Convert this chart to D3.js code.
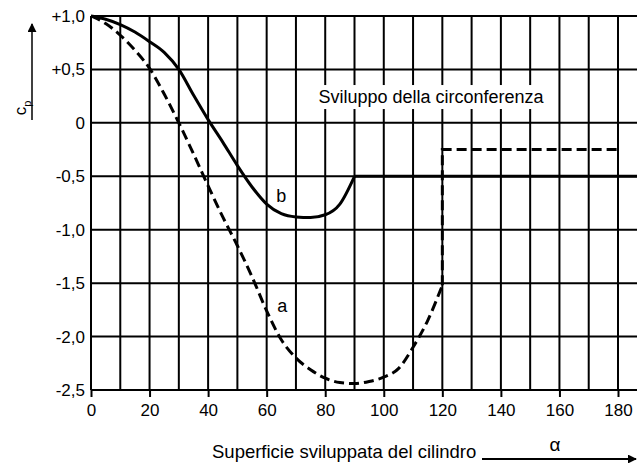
<!DOCTYPE html>
<html>
<head>
<meta charset="utf-8">
<script src="https://cdn.jsdelivr.net/npm/d3@7"></script>
<style>
  html, body { margin: 0; padding: 0; background: #fff; }
  svg { display: block; font-family: "Liberation Sans", Arial, sans-serif; }
</style>
</head>
<body>
<svg id="chart" width="637" height="463"></svg>
<script>
// Pressure coefficient c_p around a cylinder, versus angle alpha
const xTicks = [0, 20, 40, 60, 80, 100, 120, 140, 160, 180];
const yTicks = [1.0, 0.5, 0, -0.5, -1.0, -1.5, -2.0, -2.5];
const yTickLabels = ["+1,0", "+0,5", "0", "-0,5", "-1,0", "-1,5", "-2,0", "-2,5"];

// curve a (dashed)
const aAlpha = [0, 5, 10, 15, 20, 25, 30, 35, 40, 45, 50, 55, 60, 65, 70, 75, 80, 85, 90, 95, 100, 105, 110, 115, 120];
const aCp    = [1.0, 0.93, 0.82, 0.68, 0.51, 0.27, 0.0, -0.29, -0.59, -0.88, -1.15, -1.44, -1.76, -2.03, -2.2, -2.31, -2.39, -2.43, -2.44, -2.42, -2.38, -2.3, -2.1, -1.85, -1.52];
const aTailAlpha = [120, 120, 180];
const aTailCp    = [-1.52, -0.25, -0.25];

// curve b (solid)
const bAlpha = [0, 5, 10, 15, 20, 25, 30, 35, 40, 45, 50, 55, 60, 65, 70, 75, 80, 85, 90];
const bCp    = [1.0, 0.97, 0.92, 0.85, 0.76, 0.66, 0.5, 0.26, 0.03, -0.18, -0.4, -0.6, -0.76, -0.85, -0.88, -0.885, -0.86, -0.76, -0.5];
const bTailAlpha = [90, 188];
const bTailCp    = [-0.5, -0.5];

const svg = d3.select("#chart");
const x = d3.scaleLinear().domain([0, 180]).range([91, 618]);
const y = d3.scaleLinear().domain([-2.5, 1.0]).range([390, 16]);
const W = 637;

// grid
const grid = svg.append("g").attr("stroke", "#000").attr("stroke-width", 2);
d3.range(0, 181, 10).forEach(v => {
  grid.append("line").attr("x1", x(v)).attr("x2", x(v)).attr("y1", y(1.0)).attr("y2", y(-2.5));
});
yTicks.forEach(v => {
  grid.append("line").attr("x1", x(0)).attr("x2", W).attr("y1", y(v)).attr("y2", y(v));
});

// x axis ticks and labels
const xAxis = d3.axisBottom(x).tickValues(xTicks).tickSize(7).tickSizeOuter(0).tickFormat(d3.format("d"));
const gx = svg.append("g").attr("transform", `translate(0,${y(-2.5)})`).call(xAxis);
gx.select(".domain").remove();
gx.selectAll(".tick line").attr("stroke", "#000").attr("stroke-width", 2);
gx.selectAll(".tick text").attr("font-size", 17).attr("font-family", "Liberation Sans, Arial, sans-serif")
  .attr("fill", "#000").attr("dy", null).attr("y", 26);

// y axis labels
const yAxis = d3.axisLeft(y).tickValues(yTicks).tickSize(0)
  .tickFormat((d, i) => yTickLabels[i]);
const gy = svg.append("g").attr("transform", `translate(${x(0)},0)`).call(yAxis);
gy.select(".domain").remove();
gy.selectAll(".tick text").attr("font-size", 17).attr("font-family", "Liberation Sans, Arial, sans-serif")
  .attr("fill", "#000").attr("x", -6);

// curves
const line = d3.line().x(d => x(d[0])).y(d => y(d[1])).curve(d3.curveMonotoneX);
const straight = d3.line().x(d => x(d[0])).y(d => y(d[1]));
const zip = (a, b) => a.map((v, i) => [v, b[i]]);

svg.append("path").datum(zip(bAlpha, bCp)).attr("d", line)
  .attr("fill", "none").attr("stroke", "#000").attr("stroke-width", 3);
svg.append("path").datum(zip(bTailAlpha, bTailCp)).attr("d", straight)
  .attr("fill", "none").attr("stroke", "#000").attr("stroke-width", 3);

svg.append("path").datum(zip(aAlpha, aCp)).attr("d", line)
  .attr("fill", "none").attr("stroke", "#000").attr("stroke-width", 3).attr("stroke-dasharray", "10,5");
svg.append("path").datum(zip(aTailAlpha, aTailCp)).attr("d", straight)
  .attr("fill", "none").attr("stroke", "#000").attr("stroke-width", 3).attr("stroke-dasharray", "10,5");

// curve labels
svg.append("text").attr("x", x(65)).attr("y", y(-0.7)).attr("font-size", 18)
  .attr("text-anchor", "middle").attr("dominant-baseline", "middle").text("b");
svg.append("text").attr("x", x(65.3)).attr("y", y(-1.73)).attr("font-size", 18)
  .attr("text-anchor", "middle").attr("dominant-baseline", "middle").text("a");

// boxed annotation
const note = svg.append("g");
const noteText = note.append("text").attr("x", x(77.7)).attr("y", y(0.23))
  .attr("font-size", 18).attr("dominant-baseline", "middle").text("Sviluppo della circonferenza");
const bb = noteText.node().getBBox();
note.insert("rect", "text").attr("x", bb.x - 6).attr("y", bb.y - 2)
  .attr("width", bb.width + 12).attr("height", bb.height + 4).attr("fill", "#fff");

// y axis title with arrow
svg.append("defs").append("marker").attr("id", "arrow")
  .attr("viewBox", "0 0 10 10").attr("refX", 9).attr("refY", 5)
  .attr("markerWidth", 9).attr("markerHeight", 9).attr("markerUnits", "userSpaceOnUse")
  .attr("orient", "auto")
  .append("path").attr("d", "M0,0 L10,5 L0,10 Z").attr("fill", "#000");

svg.append("line").attr("x1", 32).attr("x2", 32).attr("y1", 120).attr("y2", 24)
  .attr("stroke", "#000").attr("stroke-width", 1.5).attr("marker-end", "url(#arrow)");
const yt = svg.append("text").attr("transform", "translate(26,108) rotate(-90)")
  .attr("font-size", 17).attr("text-anchor", "middle");
yt.append("tspan").text("c");
yt.append("tspan").attr("font-size", 11).attr("dy", 5).text("p");

// x axis title with arrow
svg.append("text").attr("x", 212).attr("y", 458).attr("font-size", 18.5).text("Superficie sviluppata del cilindro");
svg.append("line").attr("x1", 482).attr("x2", 636).attr("y1", 459).attr("y2", 459)
  .attr("stroke", "#000").attr("stroke-width", 2).attr("marker-end", "url(#arrow)");
svg.append("text").attr("x", 555).attr("y", 451).attr("font-size", 19).attr("text-anchor", "middle").text("α");
</script>
</body>
</html>
